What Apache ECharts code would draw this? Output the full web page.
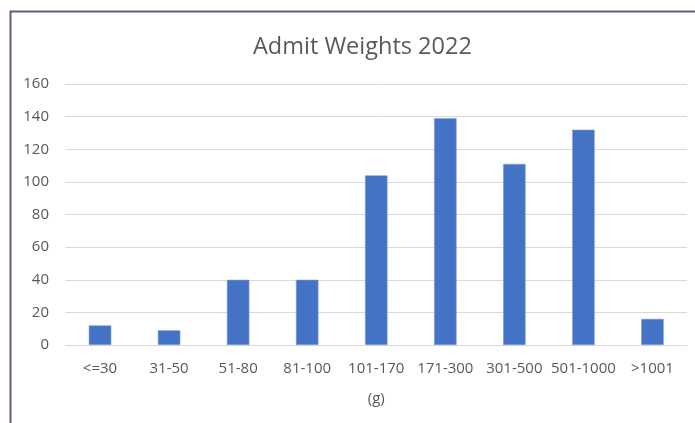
<!DOCTYPE html>
<html>
<head>
<meta charset="utf-8">
<script src="https://cdn.jsdelivr.net/npm/echarts@6/dist/echarts.min.js"></script>
<style>
html,body{margin:0;padding:0;background:#fff;}
#chart{width:695px;height:423px;}
</style>
</head>
<body>
<div id="chart"></div>
<script>
const categories = ['<=30', '31-50', '51-80', '81-100', '101-170', '171-300', '301-500', '501-1000', '>1001'];
const admits = [12, 9, 40, 40, 104, 139, 111, 132, 16];
const yTicks = { min: 0, max: 160, interval: 20 };

const chart = echarts.init(document.getElementById('chart'), null, { renderer: 'canvas' });
const font = '"Open Sans", "Liberation Sans", sans-serif';
chart.setOption({
  animation: false,
  backgroundColor: '#ffffff',
  title: {
    text: 'Admit Weights 2022',
    left: 248,
    top: 30,
    textStyle: { fontFamily: font, fontSize: 23.5, fontWeight: 'normal', color: '#595959' }
  },
  graphic: [{
    type: 'rect',
    shape: { x: 10.5, y: 11.5, width: 720, height: 440 },
    style: { fill: 'none', stroke: '#56627a', lineWidth: 2 },
    silent: true
  }],
  grid: { left: 65.5, right: 8, top: 84, bottom: 78, containLabel: false },
  xAxis: {
    type: 'category',
    data: categories,
    name: '(g)',
    nameLocation: 'middle',
    nameGap: 46,
    nameTextStyle: { fontFamily: font, fontSize: 15, color: '#595959' },
    axisLine: { show: true, lineStyle: { color: '#d9d9d9', width: 1 } },
    axisTick: { show: false },
    axisLabel: { interval: 0, margin: 16, fontFamily: font, fontSize: 15, color: '#595959' }
  },
  yAxis: {
    type: 'value',
    min: yTicks.min,
    max: yTicks.max,
    interval: yTicks.interval,
    axisLine: { show: false },
    axisTick: { show: false },
    axisLabel: { margin: 16.5, fontFamily: font, fontSize: 15, color: '#595959' },
    splitLine: { show: true, lineStyle: { color: '#d9d9d9', width: 1 } }
  },
  series: [{
    type: 'bar',
    data: admits,
    barWidth: 22.5,
    itemStyle: { color: '#4472C4', borderColor: '#7f9fd8', borderWidth: 0.6 }
  }]
});
</script>
</body>
</html>
